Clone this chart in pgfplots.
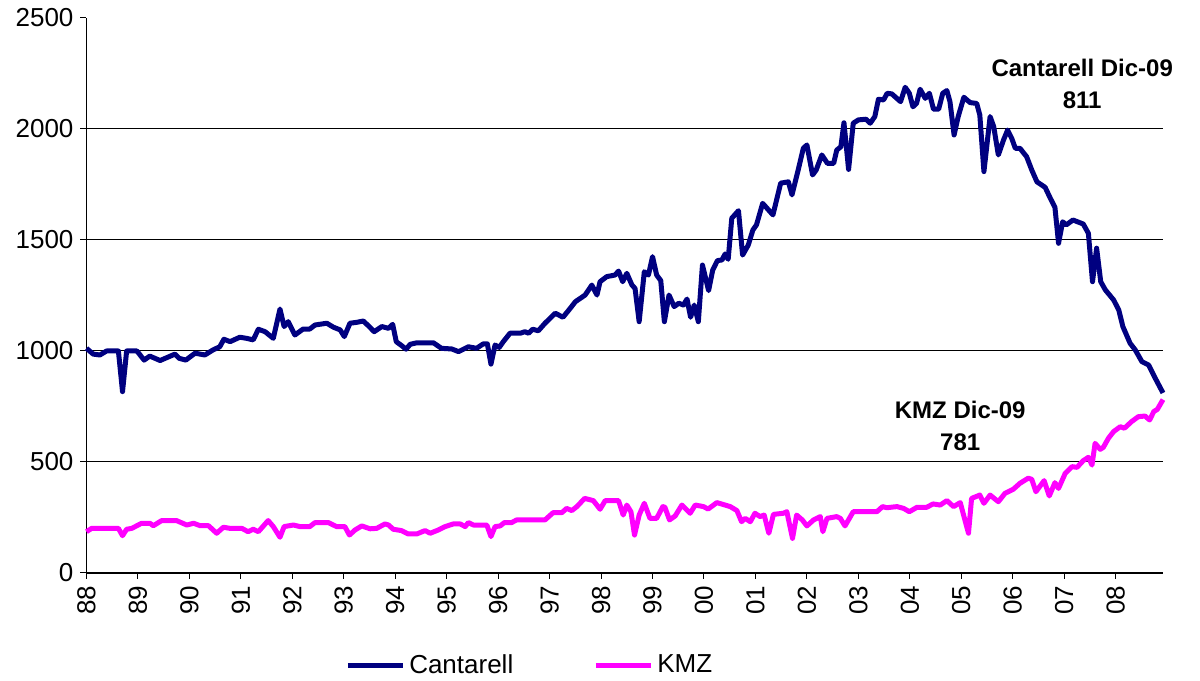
\documentclass[border=0pt]{standalone}
\usepackage{pgfplots}
\pgfplotsset{compat=1.18}
\usepackage{fontspec}
\setmainfont{Liberation Sans}
\definecolor{cant}{HTML}{000080}
\definecolor{kmz}{HTML}{FF00FF}
\begin{document}
\begin{tikzpicture}
\begin{axis}[
  scale only axis=true,
  width=538.25pt, height=277.5pt,
  xmin=0, xmax=20.92, ymin=0, ymax=2500,
  axis x line=bottom, axis y line=left,
  axis line style={black, line width=0.6pt, -},
  xtick={0,1,...,20},
  xticklabels={88,89,90,91,92,93,94,95,96,97,98,99,00,01,02,03,04,05,06,07,08},
  ytick={0,500,1000,1500,2000,2500},
  extra y ticks={500,1000,1500,2000},
  extra y tick labels={},
  extra y tick style={grid=major, major grid style={black, line width=0.5pt}, major tick length=0pt},
  tick align=outside,
  major tick length=3pt,
  tick style={black, line width=0.5pt},
  x tick label style={rotate=90, anchor=east, font=\fontsize{13}{15}\selectfont},
  y tick label style={font=\fontsize{13}{15}\selectfont},
  /pgf/number format/assume math mode=true,
  scaled y ticks=false,
  yticklabel style={/pgf/number format/1000 sep={}},
  legend columns=2,
  legend style={draw=none, at={(0.24,-0.166)}, anchor=west, font=\fontsize{13}{15}\selectfont, inner sep=0pt,
    /tikz/every even column/.append style={column sep=38pt}},
  legend image code/.code={\draw[#1] (0pt,0pt) -- (27.5pt,0pt);},
  clip=false,
]
\addplot[cant, line width=2.5pt, line join=round] coordinates {
(0,1012)(0.13,986)(0.26,982)(0.39,1000)(0.62,1000)(0.70,817)(0.78,1000)(0.98,1000)
(1.12,959)(1.23,977)(1.43,957)(1.72,986)(1.80,967)(1.93,959)(2.11,990)(2.30,982)
(2.46,1005)(2.59,1019)(2.67,1053)(2.79,1042)(2.98,1062)(3.11,1057)(3.24,1050)(3.34,1098)
(3.47,1087)(3.63,1057)(3.76,1189)(3.84,1110)(3.92,1132)(4.05,1072)(4.21,1099)(4.34,1099)
(4.44,1117)(4.67,1125)(4.80,1107)(4.93,1095)(5.01,1065)(5.12,1125)(5.25,1129)(5.38,1135)
(5.48,1113)(5.59,1087)(5.74,1110)(5.87,1102)(5.95,1120)(6.02,1042)(6.13,1023)(6.21,1008)
(6.29,1030)(6.42,1037)(6.74,1037)(6.90,1012)(7.10,1009)(7.23,997)(7.42,1019)(7.58,1012)
(7.71,1032)(7.79,1032)(7.86,941)(7.94,1027)(8.02,1016)(8.10,1042)(8.23,1080)(8.43,1080)
(8.52,1087)(8.59,1080)(8.67,1098)(8.78,1091)(8.91,1125)(9.11,1170)(9.26,1152)(9.40,1192)
(9.50,1222)(9.69,1252)(9.82,1297)(9.92,1252)(9.98,1312)(10.11,1335)(10.27,1342)(10.34,1360)
(10.42,1312)(10.50,1350)(10.60,1297)(10.66,1282)(10.74,1132)(10.84,1357)(10.92,1342)(11.00,1425)
(11.08,1342)(11.16,1317)(11.23,1132)(11.32,1252)(11.42,1200)(11.51,1215)(11.60,1207)(11.67,1234)
(11.74,1152)(11.81,1207)(11.89,1132)(11.97,1387)(12.09,1272)(12.17,1365)(12.26,1407)(12.35,1410)
(12.41,1437)(12.47,1413)(12.54,1598)(12.67,1632)(12.75,1432)(12.86,1477)(12.95,1545)(13.02,1568)
(13.14,1665)(13.34,1613)(13.49,1756)(13.64,1762)(13.71,1703)(13.83,1815)(13.93,1913)(14.00,1928)
(14.11,1793)(14.18,1815)(14.29,1883)(14.40,1845)(14.52,1845)(14.58,1905)(14.66,1920)(14.72,2028)
(14.81,1818)(14.90,2026)(15.00,2041)(15.15,2044)(15.23,2026)(15.32,2056)(15.39,2134)(15.49,2131)
(15.56,2161)(15.65,2158)(15.82,2123)(15.91,2188)(15.99,2161)(16.06,2100)(16.13,2115)(16.20,2179)
(16.30,2138)(16.38,2161)(16.46,2089)(16.56,2089)(16.64,2161)(16.72,2173)(16.78,2123)(16.86,1973)
(16.94,2056)(17.05,2143)(17.17,2119)(17.30,2115)(17.36,2063)(17.44,1808)(17.56,2056)(17.63,2011)
(17.72,1883)(17.82,1950)(17.90,1995)(17.98,1958)(18.05,1913)(18.14,1913)(18.27,1875)(18.37,1815)
(18.47,1762)(18.63,1737)(18.73,1688)(18.82,1647)(18.89,1485)(18.97,1582)(19.04,1568)(19.17,1590)
(19.37,1572)(19.47,1530)(19.55,1312)(19.63,1463)(19.71,1312)(19.80,1275)(19.96,1230)(20.06,1185)
(20.14,1110)(20.28,1035)(20.38,1005)(20.51,952)(20.64,937)(20.77,877)(20.92,811)
};
\addlegendentry{Cantarell}
\addplot[kmz, line width=2.5pt, line join=round] coordinates {
(0,186)(0.10,201)(0.62,201)(0.70,168)(0.78,197)(0.88,201)(1.07,224)(1.23,224)
(1.30,213)(1.46,236)(1.75,236)(1.95,216)(2.08,224)(2.21,213)(2.37,213)(2.53,179)
(2.66,206)(2.79,201)(3.02,201)(3.14,186)(3.24,197)(3.34,186)(3.53,236)(3.63,209)
(3.76,161)(3.84,209)(4.02,216)(4.15,209)(4.34,209)(4.44,227)(4.70,227)(4.86,209)
(5.02,209)(5.11,171)(5.22,194)(5.35,212)(5.51,199)(5.64,201)(5.80,221)(5.87,216)
(5.96,197)(6.12,191)(6.25,176)(6.42,176)(6.58,191)(6.68,179)(6.84,194)(6.97,209)
(7.13,221)(7.26,221)(7.36,209)(7.42,227)(7.52,216)(7.78,216)(7.86,164)(7.94,209)
(8.04,212)(8.12,227)(8.26,227)(8.36,239)(8.91,239)(9.07,272)(9.24,272)(9.33,291)
(9.43,281)(9.53,299)(9.68,336)(9.85,326)(9.98,287)(10.08,326)(10.34,326)(10.43,261)
(10.50,306)(10.58,276)(10.65,171)(10.74,261)(10.84,314)(10.95,246)(11.08,246)(11.20,299)
(11.24,296)(11.33,239)(11.44,257)(11.57,306)(11.73,269)(11.83,306)(11.99,299)(12.08,288)
(12.25,317)(12.41,306)(12.51,299)(12.64,281)(12.73,231)(12.80,246)(12.90,231)(12.99,269)
(13.09,254)(13.17,261)(13.26,179)(13.35,264)(13.54,269)(13.61,276)(13.72,156)(13.80,261)
(13.91,239)(14.00,212)(14.13,239)(14.26,254)(14.31,186)(14.39,246)(14.58,254)(14.65,246)
(14.74,212)(14.90,276)(15.36,276)(15.47,299)(15.55,294)(15.75,299)(15.88,291)(15.99,276)
(16.14,296)(16.33,296)(16.45,311)(16.59,306)(16.72,326)(16.85,299)(16.98,317)(17.07,239)
(17.14,179)(17.20,336)(17.36,351)(17.44,314)(17.56,351)(17.72,321)(17.85,359)(18.01,377)
(18.14,404)(18.30,427)(18.37,422)(18.45,366)(18.61,416)(18.71,347)(18.82,407)(18.89,381)
(19.02,449)(19.15,479)(19.25,476)(19.37,506)(19.47,521)(19.54,486)(19.60,584)(19.70,557)
(19.76,566)(19.86,607)(19.96,637)(20.09,659)(20.17,652)(20.31,682)(20.44,704)(20.57,707)
(20.66,689)(20.74,727)(20.81,737)(20.92,781)
};
\addlegendentry{KMZ}
\node[font=\fontsize{12}{16}\selectfont\bfseries, align=center] at (axis cs:19.35,2203) {Cantarell Dic-09\\811};
\node[font=\fontsize{12}{16}\selectfont\bfseries, align=center] at (axis cs:16.98,662) {KMZ Dic-09\\781};
\end{axis}
\pgfresetboundingbox
\path[use as bounding box] ([shift={(-43.25pt,-54pt)}]current axis.south west) rectangle ([shift={(18.5pt,9pt)}]current axis.north east);
\end{tikzpicture}
\end{document}
